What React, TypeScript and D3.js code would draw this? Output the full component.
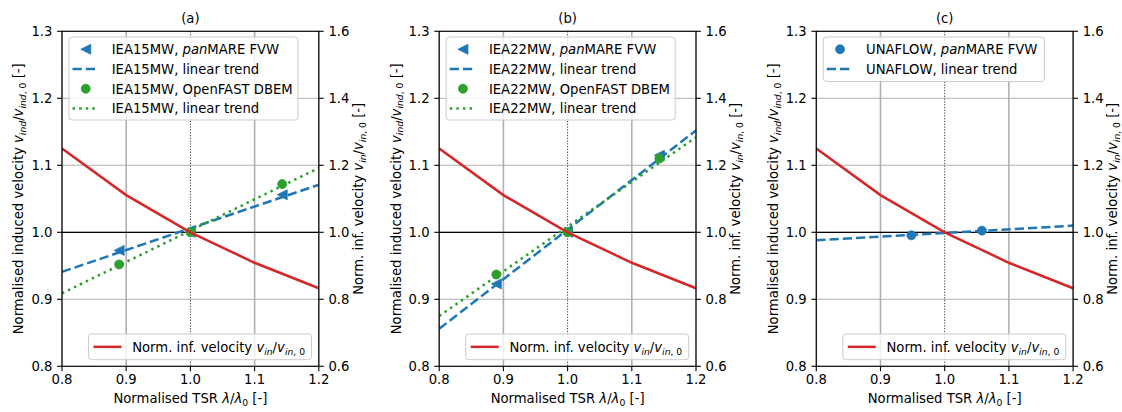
import React from "react";
import * as d3 from "d3";

// ---------- data ----------
const tsrGrid = [0.8, 0.9, 1.0, 1.1, 1.2];
const inflowNorm = [1.25, 1.111, 1.0, 0.909, 0.833];
const trendX = [0.8, 1.2];

const iea15FvwX = [0.889, 1.0, 1.143];
const iea15FvwY = [0.973, 1.0, 1.056];
const iea15FvwTrend = [0.941, 1.071];
const iea15DbemX = [0.889, 1.0, 1.143];
const iea15DbemY = [0.952, 1.0, 1.072];
const iea15DbemTrend = [0.909, 1.096];

const iea22FvwX = [0.889, 1.0, 1.143];
const iea22FvwY = [0.923, 1.0, 1.115];
const iea22FvwTrend = [0.856, 1.152];
const iea22DbemX = [0.889, 1.0, 1.143];
const iea22DbemY = [0.937, 1.0, 1.11];
const iea22DbemTrend = [0.875, 1.142];

const unaflowFvwX = [0.948, 1.058];
const unaflowFvwY = [0.9955, 1.0025];
const unaflowFvwTrend = [0.988, 1.01];

const xTicks = [0.8, 0.9, 1.0, 1.1, 1.2];
const yLeftTicks = [0.8, 0.9, 1.0, 1.1, 1.2, 1.3];
const yRightTicks = [0.6, 0.8, 1.0, 1.2, 1.4, 1.6];
const titles = ["(a)", "(b)", "(c)"];
const turbines = ["IEA15MW", "IEA22MW", "UNAFLOW"];

// ---------- style ----------
const BLUE = "#1f77b4";
const GREEN = "#2ca02c";
const RED = "#d62728";
const FONT = "DejaVu Sans";
const FS = 13.2;
const W = 1122;
const H = 412;
const TOP = 31.3;
const BOTTOM = 366.3;
const PW = 256.8;
const LEFTS = [62, 439.2, 816.3];
const LW = 2.5;
const DASH = `${3.7 * LW},${1.6 * LW}`;
const DOT = `${1 * LW},${1.65 * LW}`;

type Seg = { t: string; it?: boolean; sub?: boolean };

function Rich({ segs, fs = FS, ...rest }: { segs: Seg[]; fs?: number; [k: string]: any }) {
  const shift = fs * 0.22;
  let prevSub = false;
  return (
    <text fontFamily={FONT} fontSize={fs} fill="#000" {...rest}>
      {segs.map((s, i) => {
        let dy = 0;
        if (s.sub && !prevSub) dy = shift;
        if (!s.sub && prevSub) dy = -shift;
        prevSub = !!s.sub;
        return (
          <tspan
            key={i}
            dy={dy || undefined}
            fontStyle={s.it ? "italic" : "normal"}
            fontSize={s.sub ? fs * 0.7 : fs}
          >
            {s.t}
          </tspan>
        );
      })}
    </text>
  );
}

const yLeftLabel: Seg[] = [
  { t: "Normalised induced velocity " },
  { t: "v", it: true },
  { t: "ind", it: true, sub: true },
  { t: "/" },
  { t: "v", it: true },
  { t: "ind", it: true, sub: true },
  { t: ", 0", sub: true },
  { t: " [-]" },
];
const yRightLabel: Seg[] = [
  { t: "Norm. inf. velocity " },
  { t: "v", it: true },
  { t: "in", it: true, sub: true },
  { t: "/" },
  { t: "v", it: true },
  { t: "in", it: true, sub: true },
  { t: ", 0", sub: true },
  { t: " [-]" },
];
const redLegend: Seg[] = [
  { t: "Norm. inf. velocity " },
  { t: "v", it: true },
  { t: "in", it: true, sub: true },
  { t: "/" },
  { t: "v", it: true },
  { t: "in", it: true, sub: true },
  { t: ", 0", sub: true },
];
const xLabel: Seg[] = [
  { t: "Normalised TSR " },
  { t: "λ", it: true },
  { t: "/" },
  { t: "λ", it: true },
  { t: "0", sub: true },
  { t: " [-]" },
];

function Tri({ x, y, s = 10, color }: { x: number; y: number; s?: number; color: string }) {
  const h = s / 2;
  return <polygon points={`${x - h},${y} ${x + h},${y - h} ${x + h},${y + h}`} fill={color} stroke={color} strokeWidth={0.8} />;
}
function Dot({ x, y, r = 4.5, color }: { x: number; y: number; r?: number; color: string }) {
  return <circle cx={x} cy={y} r={r} fill={color} stroke={color} strokeWidth={0.8} />;
}

function Panel({ idx }: { idx: number }) {
  const left = LEFTS[idx];
  const right = left + PW;
  const x = d3.scaleLinear().domain([0.8, 1.2]).range([left, right]);
  const yL = d3.scaleLinear().domain([0.8, 1.3]).range([BOTTOM, TOP]);
  const yR = d3.scaleLinear().domain([0.6, 1.6]).range([BOTTOM, TOP]);
  const line = (ys: d3.ScaleLinear<number, number>) =>
    d3
      .line<[number, number]>()
      .x((d) => x(d[0]))
      .y((d) => ys(d[1]));
  const zip = (a: number[], b: number[]) => a.map((v, i) => [v, b[i]] as [number, number]);

  let fvwX: number[], fvwY: number[], fvwT: number[];
  let dbemX: number[] | null = null, dbemY: number[] | null = null, dbemT: number[] | null = null;
  if (idx === 0) {
    fvwX = iea15FvwX; fvwY = iea15FvwY; fvwT = iea15FvwTrend;
    dbemX = iea15DbemX; dbemY = iea15DbemY; dbemT = iea15DbemTrend;
  } else if (idx === 1) {
    fvwX = iea22FvwX; fvwY = iea22FvwY; fvwT = iea22FvwTrend;
    dbemX = iea22DbemX; dbemY = iea22DbemY; dbemT = iea22DbemTrend;
  } else {
    fvwX = unaflowFvwX; fvwY = unaflowFvwY; fvwT = unaflowFvwTrend;
  }
  const isTri = idx < 2;
  const name = turbines[idx];

  // legend geometry
  const lgLeft = left + 7;
  const lgTop = TOP + 5.7;
  const lgW = idx < 2 ? 229 : 221;
  const rows = idx < 2 ? 4 : 2;
  const rowH = 19.7;
  const lgH = rows === 4 ? 83 : 44.5;
  const hx0 = lgLeft + 3.5, hx1 = lgLeft + 30, hxc = (hx0 + hx1) / 2, tx = lgLeft + 42.7;
  const rowY = (i: number) => lgTop + 12.3 + i * rowH;
  const tdy = 4.8;

  const blgW = 223;
  const blgRight = right - 7.3;
  const blgLeft = blgRight - blgW;
  const blgBottom = BOTTOM - 6.6;
  const blgTop = blgBottom - 25.7;
  const blgMid = (blgTop + blgBottom) / 2;

  return (
    <g>
      {/* grid */}
      {xTicks.filter((t) => t !== 1.0).map((t) => (
        <line key={"gx" + t} x1={x(t)} x2={x(t)} y1={TOP} y2={BOTTOM} stroke="#b0b0b0" strokeWidth={1.6} />
      ))}
      {yLeftTicks.map((t) => (
        <line key={"gy" + t} x1={left} x2={right} y1={yL(t)} y2={yL(t)} stroke="#b0b0b0" strokeWidth={1.1} />
      ))}
      {/* reference lines */}
      <line x1={left} x2={right} y1={yL(1)} y2={yL(1)} stroke="#000" strokeWidth={1.3} />
      <line x1={x(1)} x2={x(1)} y1={TOP} y2={BOTTOM} stroke="#333" strokeWidth={1} strokeDasharray="1.2,1.6" />

      {/* FVW */}
      <path d={line(yL)(zip(trendX, fvwT)) || ""} fill="none" stroke={BLUE} strokeWidth={LW} strokeDasharray={DASH} />
      {fvwX.map((v, i) =>
        isTri ? <Tri key={"f" + i} x={x(v)} y={yL(fvwY[i])} color={BLUE} /> : <Dot key={"f" + i} x={x(v)} y={yL(fvwY[i])} color={BLUE} />
      )}
      {/* DBEM */}
      {dbemX && dbemY && dbemT && (
        <g>
          <path d={line(yL)(zip(trendX, dbemT)) || ""} fill="none" stroke={GREEN} strokeWidth={LW} strokeDasharray={DOT} />
          {dbemX.map((v, i) => (
            <Dot key={"d" + i} x={x(v)} y={yL(dbemY![i])} color={GREEN} />
          ))}
        </g>
      )}
      {/* inflow (right axis) */}
      <path d={line(yR)(zip(tsrGrid, inflowNorm)) || ""} fill="none" stroke={RED} strokeWidth={LW} />

      {/* top legend */}
      <rect x={lgLeft} y={lgTop} width={lgW} height={lgH} rx={3} fill="#fff" fillOpacity={0.8} stroke="#cccccc" strokeWidth={1} />
      {isTri ? <Tri x={hxc} y={rowY(0)} color={BLUE} /> : <Dot x={hxc} y={rowY(0)} color={BLUE} />}
      <Rich x={tx} y={rowY(0) + tdy} segs={[{ t: name + ", " }, { t: "pan", it: true }, { t: "MARE FVW" }]} />
      <line x1={hx0} x2={hx1} y1={rowY(1)} y2={rowY(1)} stroke={BLUE} strokeWidth={LW} strokeDasharray={DASH} />
      <Rich x={tx} y={rowY(1) + tdy} segs={[{ t: name + ", linear trend" }]} />
      {rows === 4 && (
        <g>
          <Dot x={hxc} y={rowY(2)} color={GREEN} />
          <Rich x={tx} y={rowY(2) + tdy} segs={[{ t: name + ", OpenFAST DBEM" }]} />
          <line x1={hx0} x2={hx1} y1={rowY(3)} y2={rowY(3)} stroke={GREEN} strokeWidth={LW} strokeDasharray={DOT} />
          <Rich x={tx} y={rowY(3) + tdy} segs={[{ t: name + ", linear trend" }]} />
        </g>
      )}

      {/* bottom legend */}
      <rect x={blgLeft} y={blgTop} width={blgW} height={blgBottom - blgTop} rx={3} fill="#fff" fillOpacity={0.8} stroke="#cccccc" strokeWidth={1} />
      <line x1={blgLeft + 5} x2={blgLeft + 33} y1={blgMid} y2={blgMid} stroke={RED} strokeWidth={LW} />
      <Rich x={blgLeft + 43.7} y={blgMid + tdy} segs={redLegend} />

      {/* spines */}
      <rect x={left} y={TOP} width={PW} height={BOTTOM - TOP} fill="none" stroke="#000" strokeWidth={1.1} />

      {/* x ticks */}
      {xTicks.map((t) => (
        <g key={"xt" + t}>
          <line x1={x(t)} x2={x(t)} y1={BOTTOM} y2={BOTTOM + 4.9} stroke="#000" strokeWidth={1.1} />
          <text x={x(t)} y={384.3} textAnchor="middle" fontFamily={FONT} fontSize={FS}>
            {t.toFixed(1)}
          </text>
        </g>
      ))}
      {/* left ticks */}
      {yLeftTicks.map((t) => (
        <g key={"yl" + t}>
          <line x1={left - 4.9} x2={left} y1={yL(t)} y2={yL(t)} stroke="#000" strokeWidth={1.1} />
          <text x={left - 9.6} y={yL(t) + tdy} textAnchor="end" fontFamily={FONT} fontSize={FS}>
            {t.toFixed(1)}
          </text>
        </g>
      ))}
      {/* right ticks */}
      {yRightTicks.map((t) => (
        <g key={"yr" + t}>
          <line x1={right} x2={right + 4.9} y1={yR(t)} y2={yR(t)} stroke="#000" strokeWidth={1.1} />
          <text x={right + 9.6} y={yR(t) + tdy} textAnchor="start" fontFamily={FONT} fontSize={FS}>
            {t.toFixed(1)}
          </text>
        </g>
      ))}

      {/* labels */}
      <text x={(left + right) / 2} y={23.3} textAnchor="middle" fontFamily={FONT} fontSize={FS}>
        {titles[idx]}
      </text>
      <Rich x={(left + right) / 2} y={402.6} textAnchor="middle" segs={xLabel} />
      <Rich transform={`translate(${left - 38.7},${(TOP + BOTTOM) / 2}) rotate(-90)`} textAnchor="middle" segs={yLeftLabel} />
      <Rich transform={`translate(${right + 44},${(TOP + BOTTOM) / 2}) rotate(-90)`} textAnchor="middle" segs={yRightLabel} />
    </g>
  );
}

export default function App() {
  return (
    <svg width={W} height={H} style={{ position: "absolute", left: 0, top: 0, background: "#fff" }}>
      <rect width={W} height={H} fill="#fff" />
      {[0, 1, 2].map((i) => (
        <Panel key={i} idx={i} />
      ))}
    </svg>
  );
}
